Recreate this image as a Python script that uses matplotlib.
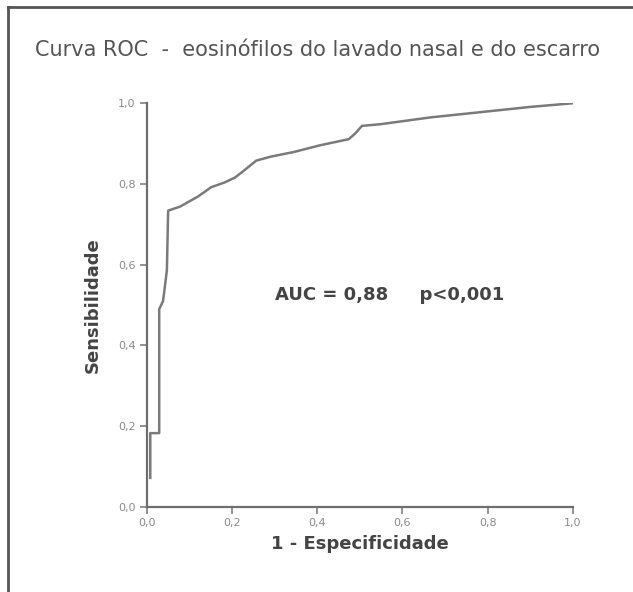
import matplotlib.pyplot as plt
from matplotlib.lines import Line2D
from matplotlib.ticker import FuncFormatter

# pontos da curva ROC
fpr = [0.008, 0.008, 0.029, 0.029, 0.038, 0.047, 0.050, 0.078, 0.12, 0.151,
       0.183, 0.207, 0.23, 0.257, 0.292, 0.344, 0.407, 0.474, 0.489, 0.505, 0.548,
       0.666, 0.784, 0.901, 1.0]
tpr = [0.072, 0.183, 0.183, 0.49, 0.51, 0.586, 0.734, 0.744, 0.769, 0.792,
       0.804, 0.816, 0.835, 0.858, 0.868, 0.879, 0.896, 0.911, 0.925, 0.944, 0.948,
       0.965, 0.978, 0.991, 1.0]
ticks = [0.0, 0.2, 0.4, 0.6, 0.8, 1.0]

plt.rcParams['font.family'] = ['DejaVu Sans']

fig = plt.figure(figsize=(6.33, 5.92), dpi=100)
ax = fig.add_axes([0.232, 0.1436, 0.673, 0.682])

ax.plot(fpr, tpr, color='#7a7a7a', lw=1.8, solid_joinstyle='round')

ax.set_xlim(0, 1)
ax.set_ylim(0, 1)
ax.set_xticks(ticks)
ax.set_yticks(ticks)
fmt = FuncFormatter(lambda v, p: f"{v:.1f}".replace('.', ','))
ax.xaxis.set_major_formatter(fmt)
ax.yaxis.set_major_formatter(fmt)
ax.tick_params(colors='#8a8a8a', labelsize=8, length=5, width=1.3, pad=3)

for s in ['top', 'right']:
    ax.spines[s].set_visible(False)
for s in ['left', 'bottom']:
    ax.spines[s].set_color('#6e6e6e')
    ax.spines[s].set_linewidth(1.6)

ax.set_xlabel("1 - Especificidade", fontsize=13, fontweight='bold', color='#444444', labelpad=5)
ax.set_ylabel("Sensibilidade", fontsize=13, fontweight='bold', color='#444444', labelpad=12)

ax.text(0.30, 0.525, "AUC = 0,88     p<0,001", fontsize=13, fontweight='bold',
        color='#444444', va='center', ha='left', transform=ax.transData)

fig.text(0.502, 0.915, "Curva ROC  -  eosinófilos do lavado nasal e do escarro",
         fontsize=15, color='#555555', ha='center', va='center')

# moldura (apenas esquerda e topo visíveis)
fig.add_artist(Line2D([0.012, 0.012], [0, 0.988], color='#555555', lw=2, transform=fig.transFigure))
fig.add_artist(Line2D([0.012, 1.0], [0.988, 0.988], color='#555555', lw=2, transform=fig.transFigure))

fig.savefig("out.png", dpi=100)
